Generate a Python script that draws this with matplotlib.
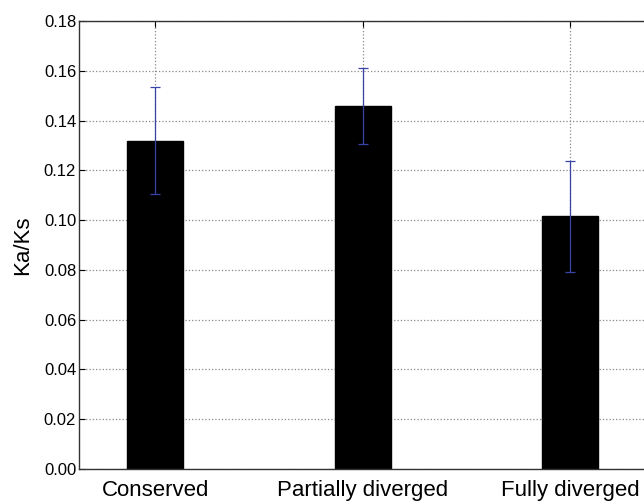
import numpy as np
import matplotlib.pyplot as plt

plt.rcParams['font.family'] = ['Liberation Sans', 'DejaVu Sans']

categories = ["Conserved", "Partially diverged", "Fully diverged"]
ka_ks = [0.132, 0.146, 0.1015]
ka_ks_err = [0.0216, 0.0152, 0.0224]
y_ticks = [0.00, 0.02, 0.04, 0.06, 0.08, 0.10, 0.12, 0.14, 0.16, 0.18]

ind = np.arange(len(categories))
width = 0.27

fig = plt.figure(figsize=(6.44, 5.01), dpi=100)
ax = fig.add_axes([0.1227, 0.0639, 0.93, 0.894])

ax.set_axisbelow(True)
ax.grid(True, linestyle=':', color='#888888', linewidth=0.9)

ax.bar(ind, ka_ks, width, color='black', edgecolor='black', zorder=2)
ax.errorbar(ind, ka_ks, yerr=ka_ks_err, fmt='none', ecolor='#3a44a8',
            elinewidth=0.9, capsize=3.5, capthick=0.9, zorder=3)

ax.set_xlim(-0.368, 2.52)
ax.set_ylim(0, 0.18)
ax.set_xticks(ind)
ax.set_xticklabels(categories, fontsize=16)
ax.set_yticks(y_ticks)
ax.set_yticklabels(["%.2f" % t for t in y_ticks], fontsize=12)
ax.set_ylabel("Ka/Ks", fontsize=16, labelpad=8)

ax.tick_params(direction='in', top=True, right=True, length=4, width=0.8)
ax.tick_params(axis='x', pad=8)
ax.tick_params(axis='y', pad=2)
for s in ax.spines.values():
    s.set_color('#333333')
    s.set_linewidth(1.0)

plt.savefig("out.png", dpi=100)
plt.close()
